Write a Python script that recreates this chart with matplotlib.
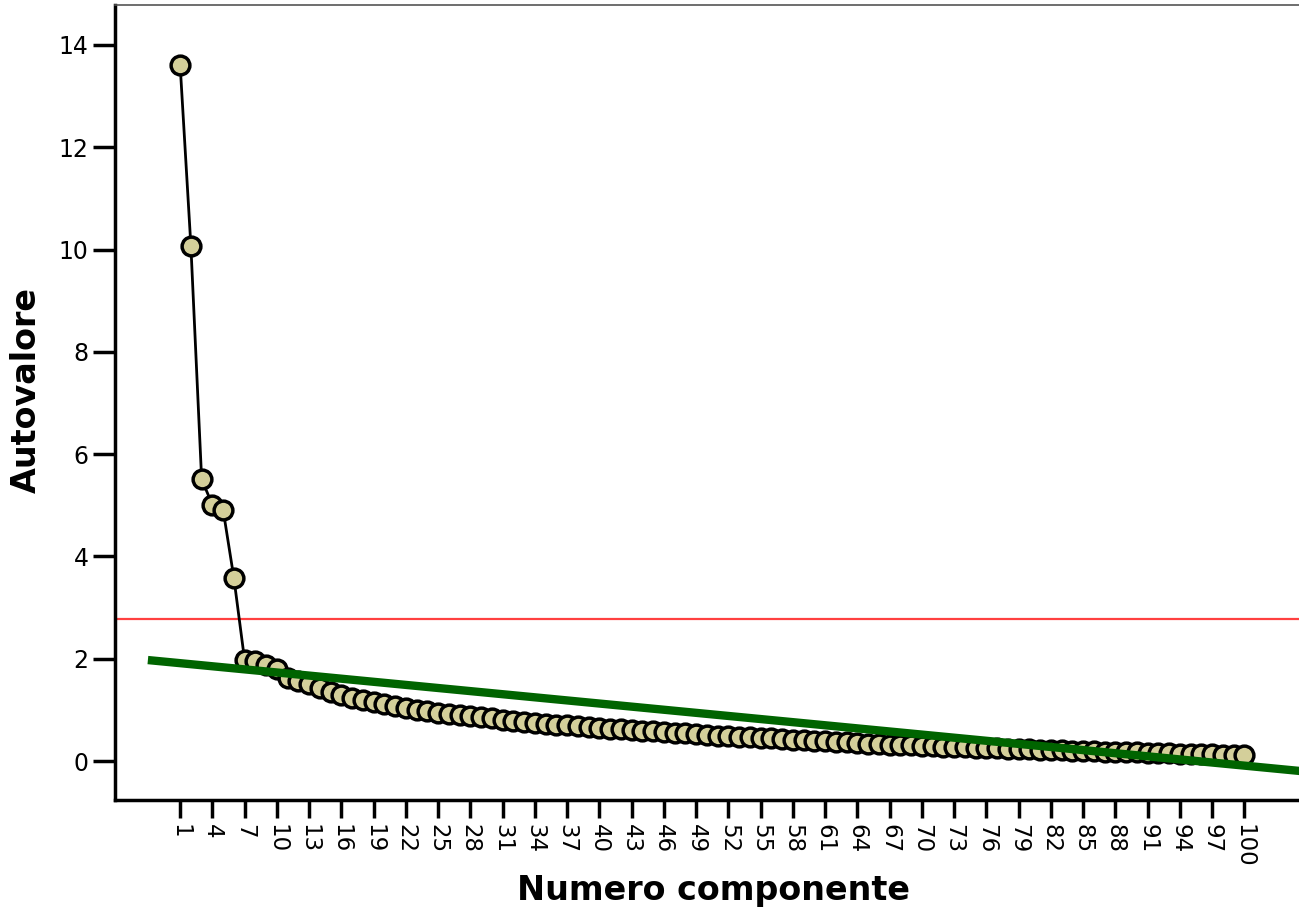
import matplotlib
matplotlib.use("Agg")
import matplotlib.pyplot as plt
import numpy as np

components = list(range(1, 101))
eigenvalues = [
    13.61, 10.07, 5.51, 5.01, 4.91, 3.58, 1.97, 1.95, 1.87, 1.80,
    1.62, 1.56, 1.51, 1.43, 1.36, 1.30, 1.24, 1.19, 1.15, 1.11,
    1.08, 1.04, 1.00, 0.97, 0.94, 0.92, 0.90, 0.88, 0.86, 0.84,
    0.81, 0.79, 0.77, 0.75, 0.73, 0.71, 0.70, 0.68, 0.66, 0.65,
    0.63, 0.62, 0.61, 0.59, 0.58, 0.57, 0.55, 0.54, 0.53, 0.51,
    0.50, 0.49, 0.48, 0.47, 0.46, 0.45, 0.43, 0.42, 0.41, 0.40,
    0.39, 0.38, 0.37, 0.36, 0.34, 0.33, 0.32, 0.32, 0.31, 0.30,
    0.29, 0.28, 0.27, 0.27, 0.26, 0.25, 0.25, 0.24, 0.23, 0.23,
    0.22, 0.21, 0.21, 0.20, 0.19, 0.19, 0.18, 0.18, 0.17, 0.17,
    0.16, 0.15, 0.15, 0.14, 0.14, 0.13, 0.13, 0.12, 0.12, 0.11,
]
tick_labels = [str(v) for v in range(1, 101, 3)]
threshold = 2.78
trend_x = [-2, 110]
trend_intercept = 1.935
trend_slope = -0.02023

plt.rcParams['font.family'] = ['DejaVu Sans']

fig = plt.figure(figsize=(12.99, 9.09), dpi=100)
ax = fig.add_axes([115 / 1299, 109 / 909, 1 - 115 / 1299 + 0.01, 795 / 909])

ax.plot(components, eigenvalues, color='black', lw=2, marker='o', ms=13.5,
        mfc='#d4cf9a', mec='black', mew=2.5, zorder=3)
ax.axhline(threshold, color='#ff4040', lw=1.6, zorder=2)
tx = np.array(trend_x, dtype=float)
ax.plot(tx, trend_intercept + trend_slope * tx, color='#006400', lw=6, zorder=4,
        solid_capstyle='butt')

ax.set_xlim(-5.06, 106.3)
ax.set_ylim(-0.76, 14.78)

ticks = list(range(1, 101, 3))
ax.set_xticks(ticks)
ax.set_xticklabels(tick_labels, rotation=-90, fontsize=16.5)
ax.set_yticks([0, 2, 4, 6, 8, 10, 12, 14])
ax.tick_params(axis='y', labelsize=17, length=16, width=2.5, pad=3)
ax.tick_params(axis='x', length=13, width=2.5, pad=4)

for s in ['left', 'bottom']:
    ax.spines[s].set_linewidth(2.5)
    ax.spines[s].set_color('black')
ax.spines['top'].set_linewidth(1.2)
ax.spines['top'].set_color('#555555')
ax.spines['right'].set_visible(False)

ax.set_xlabel('Numero componente', fontsize=24, fontweight='bold', labelpad=5)
ax.set_ylabel('Autovalore', fontsize=24, fontweight='bold')
ax.yaxis.set_label_coords(-0.06, 0.516)

fig.savefig('out.png', dpi=100)
